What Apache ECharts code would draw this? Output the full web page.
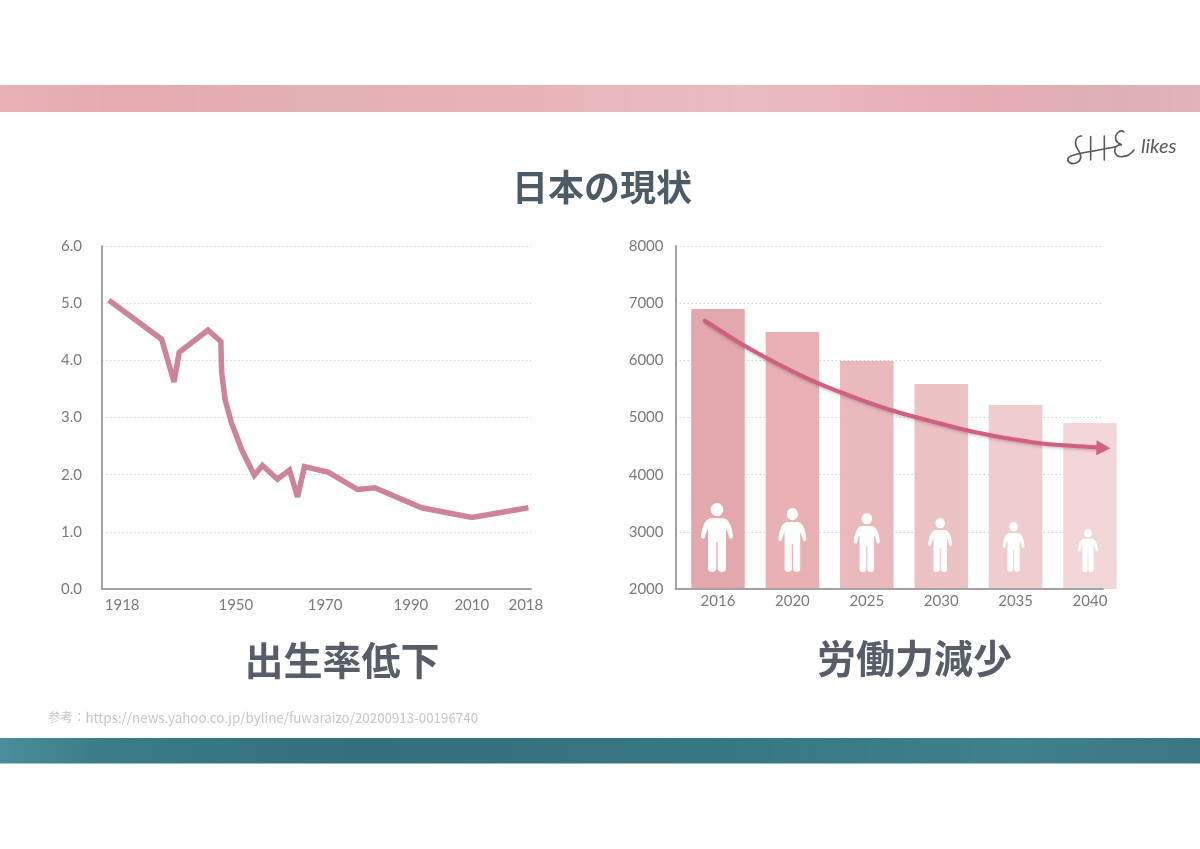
<!DOCTYPE html>
<html lang="ja">
<head>
<meta charset="utf-8">
<title>日本の現状</title>
<style>html,body{margin:0;padding:0;background:#fff}#chart{width:1200px;height:849px}</style>
<script src="https://cdn.jsdelivr.net/npm/echarts@6/dist/echarts.min.js"></script>
</head>
<body>
<div id="chart"></div>
<script>
// Left chart: birth rate. Horizontal scale of the source is irregular, so x is % along the axis.
const birthAlong = [1.6,13.9,16.8,18.0,24.7,27.7,27.9,28.7,30.2,32.6,35.5,37.4,40.9,43.7,45.6,47.2,52.8,59.6,63.6,74.5,86.2,99.4];
const birthRate  = [5.05,4.37,3.62,4.14,4.53,4.33,3.78,3.31,2.90,2.43,1.99,2.16,1.92,2.08,1.61,2.14,2.04,1.74,1.77,1.42,1.25,1.42];
const birthTickAlong = [4.7,31.2,52.0,72.0,86.2,98.8];
const birthTickLabels = ['1918','1950','1970','1990','2010','2018'];

// Right chart: labour force.
const laborYears = ['2016','2020','2025','2030','2035','2040'];
const laborValues = [6898,6495,5988,5586,5218,4904];
const trendIndex = [-0.175,0.34,0.833,1.327,1.864,2.40,2.894,3.43,3.97,4.418,5.09,5.18];
const trendValues = [6693,6268,5918,5609,5336,5101,4926,4751,4618,4536,4479,4466];

const barColors = ['#E2A4A8','#E7AEB1','#E9B6B9','#EBC0C1','#EECACC','#F1D4D6'];
const figureSizes = [[32,69],[28,64],[26,59],[24,54],[22,50],[20,43]];
const figureShift = [-1,0,0,-1,-2,-2];
const figureBase = 2297;

const personPath = 'path://M50 0a20 20 0 1 1 0 40a20 20 0 1 1 0-40zM28 46H72C86 50 96 66 100 100C101 108 90 112 88 104C84 92 82 84 78 78V200C78 212 54 212 52 200V118H48V200C46 212 22 212 22 200V78C18 84 16 92 12 104C10 112 -1 108 0 100C4 66 14 50 28 46Z';
// Hand-written logo strokes: x1,y1, cp1x,cp1y, cp2x,cp2y, x2,y2 at 3x scale
const logoCurves = [
  [125,78,112,76,104,90,107,104],[107,104,110,120,124,124,122,142],[122,142,120,160,92,168,84,152],
  [84,152,78,138,104,132,165,122],[165,122,190,117,210,114,226,110],
  [152,80,152,100,152,130,152,150],[193,78,193,100,193,130,193,150],
  [252,66,240,56,222,74,228,90],[228,90,231,100,246,104,244,104],[244,104,232,104,222,112,224,124],[224,124,228,146,262,146,282,120]
];

const axisText = {color:'#7b7b7b',fontFamily:'Lato',fontSize:15};
const gridDots = {show:true,lineStyle:{color:'#d0d0d0',type:[1.5,2.5],width:1}};
const axisLine = {show:true,lineStyle:{color:'#a3a3a3',width:2}};

const option = {
  animation:false,
  backgroundColor:'#ffffff',
  title:[
    {text:'日本の現状',left:602,top:163,padding:0,textAlign:'center',textStyle:{fontFamily:'Noto Sans CJK JP',fontSize:36,fontWeight:700,color:'#4c5c67',lineHeight:48}},
    {text:'出生率低下',left:342,top:634,padding:0,textAlign:'center',textStyle:{fontFamily:'Noto Sans CJK JP',fontSize:39,fontWeight:700,color:'#575e69',lineHeight:52}},
    {text:'労働力減少',left:914.5,top:632,padding:0,textAlign:'center',textStyle:{fontFamily:'Noto Sans CJK JP',fontSize:39,fontWeight:700,color:'#575e69',lineHeight:52}}
  ],
  grid:[
    {left:102,width:429,top:246,height:343},
    {left:675.5,width:427.5,top:246,height:343},
    {left:680.8,width:446.4,top:246,height:343}
  ],
  xAxis:[
    {gridIndex:0,type:'value',min:0,max:100,splitLine:{show:false},axisLine:axisLine,axisTick:{show:false},
      axisLabel:Object.assign({},axisText,{margin:9,customValues:birthTickAlong,
        formatter:(v)=>birthTickLabels[birthTickAlong.indexOf(v)]})},
    {gridIndex:1,type:'value',min:0,max:1,splitLine:{show:false},axisLine:axisLine,axisTick:{show:false},axisLabel:{show:false},z:5},
    {gridIndex:2,type:'category',data:laborYears,axisLine:{show:false},axisTick:{show:false},
      axisLabel:Object.assign({},axisText,{margin:5})},
    {gridIndex:2,type:'value',min:-0.5,max:5.5,show:false}
  ],
  yAxis:[
    {gridIndex:0,type:'value',min:0,max:6,interval:1,axisLine:axisLine,axisTick:{show:false},splitLine:gridDots,
      axisLabel:Object.assign({},axisText,{margin:20,formatter:(v)=>v.toFixed(1)})},
    {gridIndex:1,type:'value',min:2000,max:8000,interval:1000,axisLine:axisLine,axisTick:{show:false},splitLine:gridDots,
      axisLabel:Object.assign({},axisText,{margin:12,formatter:(v)=>String(v)})},
    {gridIndex:2,type:'value',min:2000,max:8000,show:false,splitLine:{show:false}}
  ],
  series:[
    {type:'line',xAxisIndex:0,yAxisIndex:0,data:birthAlong.map((x,i)=>[x,birthRate[i]]),symbol:'none',
      lineStyle:{color:'#cd8399',width:5.5,join:'miter',miterLimit:3,cap:'butt'}},
    {type:'bar',xAxisIndex:2,yAxisIndex:2,barWidth:53.5,
      data:laborValues.map((v,i)=>({value:v,itemStyle:{color:barColors[i],opacity:0.96}}))},
    {type:'scatter',xAxisIndex:2,yAxisIndex:2,symbol:personPath,z:4,
      data:laborYears.map((y,i)=>({value:[i,figureBase],symbolSize:figureSizes[i],symbolOffset:[figureShift[i],-figureSizes[i][1]/2]})),
      itemStyle:{color:'#ffffff',opacity:1}},
    {type:'line',xAxisIndex:3,yAxisIndex:2,smooth:0.3,z:6,clip:false,showSymbol:true,
      data:trendIndex.map((x,i)=>i===trendIndex.length-1
        ?{value:[x,trendValues[i]],symbol:'triangle',symbolSize:[15,14],symbolRotate:-92,itemStyle:{color:'#d0607f',opacity:1}}
        :{value:[x,trendValues[i]],symbol:'none'}),
      lineStyle:{color:'#d0607f',width:4,cap:'round',shadowColor:'rgba(90,40,60,0.28)',shadowBlur:3,shadowOffsetY:1.5}}
  ],
  graphic:[
    {type:'rect',z:-1,shape:{x:0,y:85,width:1200,height:27},style:{fill:{type:'linear',x:0,y:0,x2:1,y2:0,colorStops:[
      {offset:0,color:'#e8b2b5'},{offset:0.1,color:'#e5aaae'},{offset:0.25,color:'#e3b0b3'},{offset:0.45,color:'#e8b4b8'},{offset:0.62,color:'#ebbbc0'},{offset:0.82,color:'#e6adb3'},{offset:0.93,color:'#deb0b5'},{offset:1,color:'#e0b4b8'}]}}},
    {type:'rect',z:-1,shape:{x:0,y:738,width:1200,height:25.5},style:{fill:{type:'linear',x:0,y:0,x2:1,y2:0,colorStops:[
      {offset:0,color:'#4b8d9a'},{offset:0.08,color:'#3b7c87'},{offset:0.3,color:'#32707b'},{offset:0.6,color:'#377783'},{offset:0.85,color:'#407f8c'},{offset:1,color:'#3a7784'}]}}},
    ...logoCurves.map(c=>({type:'bezierCurve',x:1040,y:110,
      shape:{x1:c[0]/3,y1:c[1]/3,cpx1:c[2]/3,cpy1:c[3]/3,cpx2:c[4]/3,cpy2:c[5]/3,x2:c[6]/3,y2:c[7]/3},
      style:{fill:null,stroke:'#555a5e',lineWidth:1.6,lineCap:'round'}})),
    {type:'text',x:1141,y:137,style:{text:'likes',fontFamily:'Lato',fontStyle:'italic',fontSize:20,fill:'#555a5e'}},
    {type:'text',x:48,y:711,style:{text:'{a|参考：}{b|https://news.yahoo.co.jp/byline/fuwaraizo/20200913-00196740}',
      rich:{a:{fontFamily:'Noto Sans CJK JP',fontSize:12.5,fill:'#c6c6c6',color:'#c6c6c6'},b:{fontFamily:'Noto Sans CJK JP',fontSize:13.35,fill:'#c6c6c6',color:'#c6c6c6'}},
      fontFamily:'Noto Sans CJK JP',fontSize:12.5,fill:'#c6c6c6'}}
  ]
};
echarts.init(document.getElementById('chart'),null,{renderer:'canvas'}).setOption(option);
</script>
</body>
</html>
